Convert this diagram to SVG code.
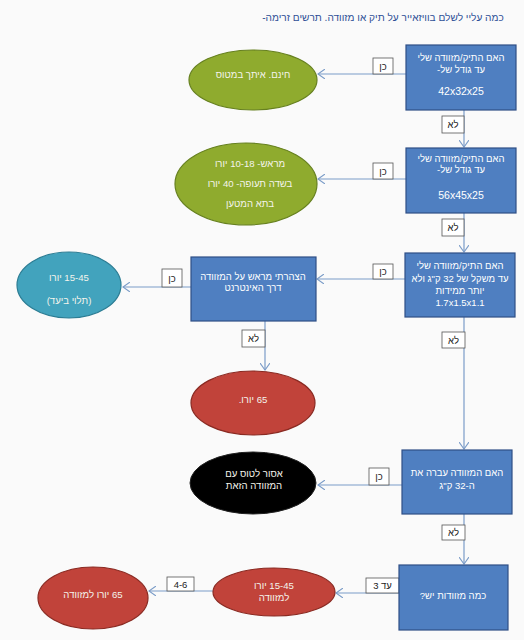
<svg xmlns="http://www.w3.org/2000/svg" width="524" height="640" viewBox="0 0 524 640">
<defs>
<style>
text{font-family:"Liberation Sans","Noto Sans",sans-serif;text-anchor:middle;direction:rtl}
.t{font-size:10.1px;fill:#2e4f96}
.bx{fill:#4f7fc1;stroke:#2f4f86;stroke-width:1.2}
.bt{font-size:9.5px;fill:#ffffff}
.dm{font-size:10.5px;fill:#ffffff}
.et{font-size:9.6px;fill:#f4f4ec}
.lb{fill:#ffffff;stroke:#555555;stroke-width:0.8}
.lt{font-size:9.5px;fill:#222222}
.c{stroke:#7b9cc8;stroke-width:1.2;fill:none}
.g{fill:#8fab2e;stroke:#66801f;stroke-width:1.2}
.tl{fill:#42a3bd;stroke:#2c7d94;stroke-width:1.2}
.r{fill:#c1433a;stroke:#8a2a22;stroke-width:1.2}
.k{fill:#000000;stroke:#222222;stroke-width:1}
</style>
<marker id="ah" markerWidth="8" markerHeight="10" refX="7" refY="5" orient="auto" markerUnits="userSpaceOnUse">
<path d="M0,0 L7,5 L0,10" fill="none" stroke="#7b9cc8" stroke-width="1.1"/>
</marker>
</defs>
<rect width="524" height="640" fill="#fafafa"/>
<text class="t" x="383" y="21">כמה עליי לשלם בוויזאייר על תיק או מזוודה. תרשים זרימה-</text>

<g id="connectors">
<line class="c" x1="406" y1="74" x2="318" y2="74" marker-end="url(#ah)"/>
<rect class="lb" x="373" y="58" width="20" height="16"/><text class="lt" x="383" y="70">כן</text>
<line class="c" x1="464" y1="110" x2="464" y2="147" marker-end="url(#ah)"/>
<rect class="lb" x="442" y="116" width="22" height="17"/><text class="lt" x="453" y="128">לא</text>

<line class="c" x1="406" y1="179" x2="318" y2="179" marker-end="url(#ah)"/>
<rect class="lb" x="373" y="163" width="20" height="16"/><text class="lt" x="383" y="175">כן</text>
<line class="c" x1="464" y1="213" x2="464" y2="252" marker-end="url(#ah)"/>
<rect class="lb" x="442" y="219" width="22" height="17"/><text class="lt" x="453" y="231">לא</text>

<line class="c" x1="405" y1="279" x2="317" y2="279" marker-end="url(#ah)"/>
<rect class="lb" x="373" y="264" width="20" height="15"/><text class="lt" x="383" y="275">כן</text>
<line class="c" x1="191" y1="287" x2="123" y2="287" marker-end="url(#ah)"/>
<rect class="lb" x="162" y="269" width="20" height="18"/><text class="lt" x="172" y="282">כן</text>
<line class="c" x1="265" y1="321" x2="265" y2="370" marker-end="url(#ah)"/>
<rect class="lb" x="242" y="330" width="23" height="17"/><text class="lt" x="253.5" y="342">לא</text>
<line class="c" x1="464" y1="317" x2="464" y2="449" marker-end="url(#ah)"/>
<rect class="lb" x="442" y="332" width="23" height="16"/><text class="lt" x="453.5" y="344">לא</text>

<line class="c" x1="402" y1="485" x2="318" y2="485" marker-end="url(#ah)"/>
<rect class="lb" x="369" y="468" width="20" height="17"/><text class="lt" x="379" y="480">כן</text>
<line class="c" x1="464" y1="514" x2="464" y2="564" marker-end="url(#ah)"/>
<rect class="lb" x="442" y="525" width="23" height="15"/><text class="lt" x="453.5" y="536">לא</text>

<line class="c" x1="399" y1="593" x2="336" y2="593" marker-end="url(#ah)"/>
<rect class="lb" x="366" y="578" width="33" height="15"/><text class="lt" x="382.5" y="589">עד 3</text>
<line class="c" x1="213" y1="591" x2="149" y2="591" marker-end="url(#ah)"/>
<rect class="lb" x="167" y="577" width="27" height="14"/><text class="lt" x="180.5" y="588">4-6</text>
</g>

<g id="q1">
<rect class="bx" x="406" y="45" width="110" height="65"/>
<text class="bt" x="461" y="61">האם התיק/מזוודה  שלי</text>
<text class="bt" x="461" y="73">עד גודל של-</text>
<text class="dm" x="461" y="95">42x32x25</text>
</g>
<g id="free">
<ellipse class="g" cx="253" cy="80" rx="64" ry="30"/>
<text class="et" x="253" y="78">חינם. איתך במטוס</text>
</g>

<g id="q2">
<rect class="bx" x="406" y="148" width="110" height="65"/>
<text class="bt" x="461" y="162">האם התיק/מזוודה שלי</text>
<text class="bt" x="461" y="173">עד גודל של-</text>
<text class="dm" x="461" y="199">56x45x25</text>
</g>
<g id="cabin">
<ellipse class="g" cx="246" cy="184" rx="71" ry="41"/>
<text class="et" x="250" y="167">מראש- 10-18 יורו</text>
<text class="et" x="250" y="187">בשדה תעופה- 40 יורו</text>
<text class="et" x="250" y="207">בתא המטען</text>
</g>

<g id="q3">
<rect class="bx" x="405" y="253" width="110" height="64"/>
<text class="bt" x="460" y="269">האם התיק/מזוודה שלי</text>
<text class="bt" x="460" y="282">עד משקל של 32 ק"ג ולא</text>
<text class="bt" x="460" y="294">יותר ממידות</text>
<text class="bt" x="460" y="306">1.7x1.5x1.1</text>
</g>
<g id="declared">
<rect class="bx" x="191" y="257" width="125" height="64"/>
<text class="bt" x="253" y="280">הצהרתי מראש על המזוודה</text>
<text class="bt" x="253" y="291">דרך האינטרנט</text>
</g>
<g id="price1545">
<ellipse class="tl" cx="69" cy="285" rx="52" ry="33"/>
<text class="et" x="69" y="281">15-45 יורו</text>
<text class="et" x="69" y="304">(תלוי ביעד)</text>
</g>
<g id="price65">
<ellipse class="r" cx="253" cy="403" rx="62" ry="32"/>
<text class="et" x="253" y="403">65 יורו.</text>
</g>

<g id="q4">
<rect class="bx" x="402" y="450" width="110" height="64"/>
<text class="bt" x="457" y="476">האם המזוודה עברה את</text>
<text class="bt" x="457" y="489">ה-32 ק"ג</text>
</g>
<g id="forbidden">
<ellipse class="k" cx="253" cy="483" rx="63" ry="31"/>
<text class="et" x="254" y="477">אסור לטוס עם</text>
<text class="et" x="254" y="489">המזוודה הזאת</text>
</g>

<g id="q5">
<rect class="bx" x="399" y="565" width="109" height="65"/>
<text class="bt" x="453" y="599">כמה מזוודות יש?</text>
</g>
<g id="upto3">
<ellipse class="r" cx="274" cy="592" rx="61" ry="24"/>
<text class="et" x="274" y="589">15-45 יורו</text>
<text class="et" x="274" y="601">למזוודה</text>
</g>
<g id="four6">
<ellipse class="r" cx="93" cy="598" rx="55" ry="31"/>
<text class="et" x="93" y="598">65 יורו למזוודה</text>
</g>
</svg>
